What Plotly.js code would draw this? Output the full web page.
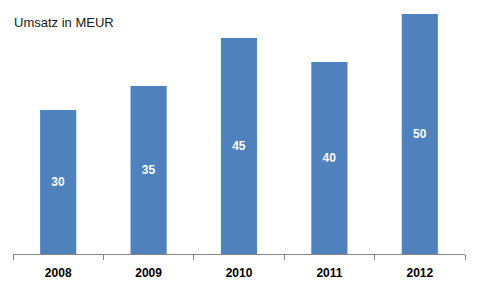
<!DOCTYPE html>
<html>
<head>
<meta charset="utf-8">
<script src="https://cdn.plot.ly/plotly-3.0.1.min.js"></script>
<style>html,body{margin:0;padding:0;background:#fff;}#chart{width:479px;height:286px;}</style>
</head>
<body>
<div id="chart"></div>
<script>
const years = ["2008", "2009", "2010", "2011", "2012"];
const umsatz = [30, 35, 45, 40, 50];
const chartTitle = "Umsatz in MEUR";

const trace = {
  type: "bar",
  x: years,
  y: umsatz,
  text: umsatz.map(String),
  textposition: "inside",
  insidetextanchor: "middle",
  textangle: 0,
  textfont: {family: "Liberation Sans, Arial, sans-serif", size: 12, color: "#ffffff", weight: "bold"},
  marker: {color: "#4F81BD"},
  cliponaxis: false,
  hoverinfo: "none"
};

const layout = {
  width: 479,
  height: 286,
  margin: {l: 13, r: 14, t: 14, b: 32, pad: 0},
  paper_bgcolor: "#ffffff",
  plot_bgcolor: "#ffffff",
  bargap: 0.6,
  showlegend: false,
  title: {
    text: chartTitle,
    x: 14 / 479,
    xanchor: "left",
    xref: "container",
    y: 1 - 22 / 286,
    yanchor: "middle",
    yref: "container",
    font: {family: "Liberation Sans, Arial, sans-serif", size: 13, color: "#1a1a1a"}
  },
  xaxis: {
    type: "category",
    showline: true,
    linecolor: "#868686",
    linewidth: 1,
    ticks: "outside",
    tickson: "boundaries",
    ticklen: 5,
    tickcolor: "#868686",
    ticklabelstandoff: 8,
    tickfont: {family: "Liberation Sans, Arial, sans-serif", size: 12, color: "#000000", weight: "bold"},
    showgrid: false,
    zeroline: false,
    fixedrange: true
  },
  yaxis: {
    range: [0, 50],
    visible: false,
    showgrid: false,
    zeroline: false,
    fixedrange: true
  }
};

Plotly.newPlot("chart", [trace], layout, {displayModeBar: false, staticPlot: true});
</script>
</body>
</html>
